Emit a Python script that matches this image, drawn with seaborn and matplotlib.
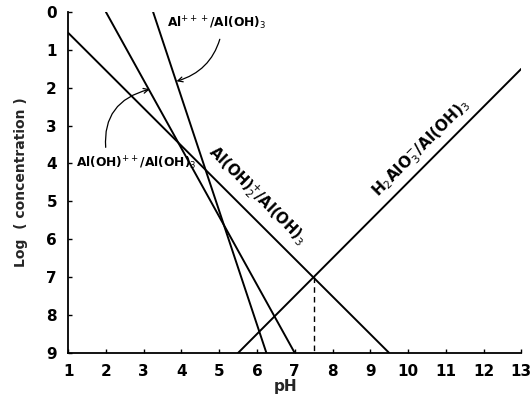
import matplotlib
matplotlib.use("Agg")
import matplotlib.pyplot as plt
import seaborn as sns
import pandas as pd

# Data (pH, log concentration) endpoints of each equilibrium line
ph_al3 = [3.25, 6.25]
logc_al3 = [0.0, 9.0]
ph_aloh = [2.0, 7.0]
logc_aloh = [0.0, 9.0]
ph_aloh2 = [1.0, 9.5]
logc_aloh2 = [0.55, 9.0]
ph_alum = [5.5, 13.0]
logc_alum = [9.0, 1.5]
ph_cross = [7.5, 7.5]
logc_cross = [7.0, 9.0]

x_ticks = list(range(1, 14))
y_ticks = list(range(0, 10))

sns.set_style("ticks")
plt.rcParams['font.family'] = ['DejaVu Sans']
plt.rcParams['mathtext.fontset'] = 'dejavusans'

fig = plt.figure(figsize=(5.32, 3.97), dpi=100)
ax = fig.add_axes([0.128, 0.111, 0.852, 0.859])

for px, py in [(ph_al3, logc_al3), (ph_aloh, logc_aloh), (ph_aloh2, logc_aloh2), (ph_alum, logc_alum)]:
    df = pd.DataFrame({"pH": px, "logc": py})
    sns.lineplot(data=df, x="pH", y="logc", ax=ax, color="black", lw=1.4, sort=False, estimator=None)

dfc = pd.DataFrame({"pH": ph_cross, "logc": logc_cross})
sns.lineplot(data=dfc, x="pH", y="logc", ax=ax, color="black", lw=1.0, linestyle=(0, (4, 3)), sort=False, estimator=None)

ax.set_xlim(1, 13)
ax.set_ylim(9, 0)
ax.set_xticks(x_ticks)
ax.set_yticks(y_ticks)
ax.set_xticklabels([str(v) for v in x_ticks], fontsize=11, fontweight='bold')
ax.set_yticklabels([str(v) for v in y_ticks], fontsize=11, fontweight='bold')
ax.tick_params(direction='in', length=3, width=1, pad=8, colors='black')
for s in ['top', 'right']:
    ax.spines[s].set_visible(False)
for s in ['left', 'bottom']:
    ax.spines[s].set_color('black')
    ax.spines[s].set_linewidth(1.3)
ax.set_xlabel("pH", fontsize=11, fontweight='bold', labelpad=2)
ax.xaxis.set_label_coords(0.48, -0.075)
ax.set_ylabel("Log  ( concentration )", fontsize=10, fontweight='bold', labelpad=13)

hkw = dict(fontsize=8.8, fontweight='bold', color='black')
rkw = dict(fontsize=10.5, fontweight='bold', color='black')
ax.annotate(r"Al$^{+++}$/Al(OH)$_3$", xy=(3.87, 1.83), xytext=(3.62, 0.3),
            ha='left', va='center', **hkw,
            arrowprops=dict(arrowstyle='->', color='black', lw=0.9,
                            connectionstyle='arc3,rad=-0.3', shrinkA=3, shrinkB=0,
                            relpos=(0.55, 0.0)))
ax.annotate(r"Al(OH)$^{++}$/Al(OH)$_3$", xy=(3.16, 2.04), xytext=(1.22, 4.0),
            ha='left', va='center', **hkw,
            arrowprops=dict(arrowstyle='->', color='black', lw=0.9,
                            connectionstyle='arc3,rad=-0.45', shrinkA=3, shrinkB=0,
                            relpos=(0.25, 1.0)))
ax.text(6.0, 4.86, r"Al(OH)$_2^{+}$/Al(OH)$_3$", rotation=-45, rotation_mode='anchor',
        ha='center', va='center', **rkw)
ax.text(10.35, 3.62, r"H$_2$AlO$_3^{-}$/Al(OH)$_3$", rotation=45, rotation_mode='anchor',
        ha='center', va='center', fontsize=11, fontweight='bold', color='black')

fig.savefig("out.png", dpi=100)
